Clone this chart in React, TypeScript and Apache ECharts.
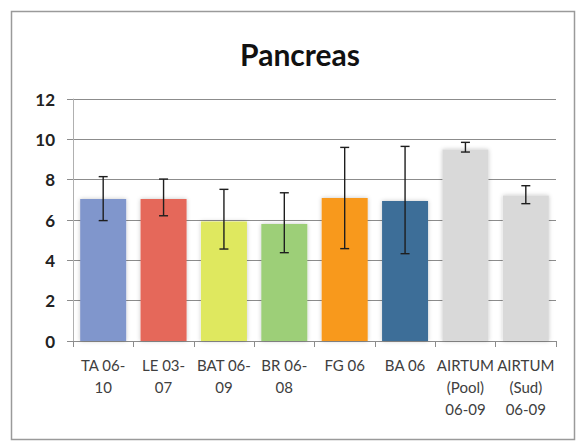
import React, { useEffect, useRef } from "react";
import * as echarts from "echarts";

const categories = [
  "TA 06-\n10",
  "LE 03-\n07",
  "BAT 06-\n09",
  "BR 06-\n08",
  "FG 06",
  "BA 06",
  "AIRTUM\n(Pool)\n06-09",
  "AIRTUM\n(Sud)\n06-09",
];
const values = [7.04, 7.04, 5.93, 5.8, 7.09, 6.94, 9.5, 7.22];
const errLow = [5.97, 6.21, 4.56, 4.38, 4.58, 4.33, 9.37, 6.81];
const errHigh = [8.15, 8.03, 7.52, 7.35, 9.6, 9.65, 9.85, 7.7];
const barColors = ["#8096cc", "#e5675a", "#dfe85f", "#9dcf78", "#f8991e", "#3d6e98", "#d9d9d9", "#d9d9d9"];
const yTicks = { min: 0, max: 12, interval: 2 };

export default function App() {
  const ref = useRef<HTMLDivElement>(null);
  useEffect(() => {
    if (!ref.current) return;
    const chart = echarts.init(ref.current, null, { renderer: "svg" });
    chart.setOption({
      animation: false,
      backgroundColor: "#ffffff",
      title: {
        text: "Pancreas",
        left: 295,
        textAlign: "center",
        top: 34,
        textStyle: { fontFamily: "Lato", fontWeight: "bold", fontSize: 30, color: "#111" },
      },
      graphic: [
        {
          type: "rect",
          shape: { x: 11.5, y: 11.5, width: 563, height: 428 },
          style: { fill: "none", stroke: "#9a9a9a", lineWidth: 1.5 },
          silent: true,
          z: -1,
        },
      ],
      grid: { left: 73, right: 21, top: 99, bottom: 100 },
      xAxis: {
        type: "category",
        data: categories,
        axisLine: { lineStyle: { color: "#8c8c8c", width: 1 } },
        axisTick: { show: true, length: 6, lineStyle: { color: "#8c8c8c" } },
        axisLabel: {
          interval: 0,
          fontFamily: "Lato",
          fontSize: 15,
          color: "#404040",
          lineHeight: 22,
          margin: 13,
        },
      },
      yAxis: {
        type: "value",
        min: yTicks.min,
        max: yTicks.max,
        interval: yTicks.interval,
        axisLine: { show: true, lineStyle: { color: "#b0b0b0", width: 1 } },
        axisTick: { show: true, length: 6, lineStyle: { color: "#8c8c8c" } },
        splitLine: { show: true, lineStyle: { color: "#8c8c8c", width: 1 } },
        axisLabel: {
          fontFamily: "Lato",
          fontWeight: "bold",
          fontSize: 17,
          color: "#222",
          margin: 18,
        },
      },
      series: [
        {
          type: "bar",
          barWidth: 46,
          data: values.map((v, i) => ({
            value: v,
            itemStyle: {
              color: barColors[i],
              shadowColor: "rgba(0,0,0,0.22)",
              shadowBlur: 4,
            },
          })),
        },
        {
          type: "custom",
          data: values.map((_, i) => [i, errLow[i], errHigh[i]]),
          z: 10,
          renderItem: (params: any, api: any) => {
            const x = api.value(0);
            const lo = api.coord([x, api.value(1)]);
            const hi = api.coord([x, api.value(2)]);
            const hw = 4.5;
            const style = { stroke: "#1e1e1e", lineWidth: 1.4 };
            return {
              type: "group",
              children: [
                { type: "line", shape: { x1: lo[0], y1: lo[1], x2: hi[0], y2: hi[1] }, style },
                { type: "line", shape: { x1: lo[0] - hw, y1: lo[1], x2: lo[0] + hw, y2: lo[1] }, style },
                { type: "line", shape: { x1: hi[0] - hw, y1: hi[1], x2: hi[0] + hw, y2: hi[1] }, style },
              ],
            };
          },
        },
      ],
    });
    return () => chart.dispose();
  }, []);
  return (
    <div
      ref={ref}
      style={{ position: "fixed", left: 0, top: 0, width: 577, height: 441 }}
    />
  );
}
